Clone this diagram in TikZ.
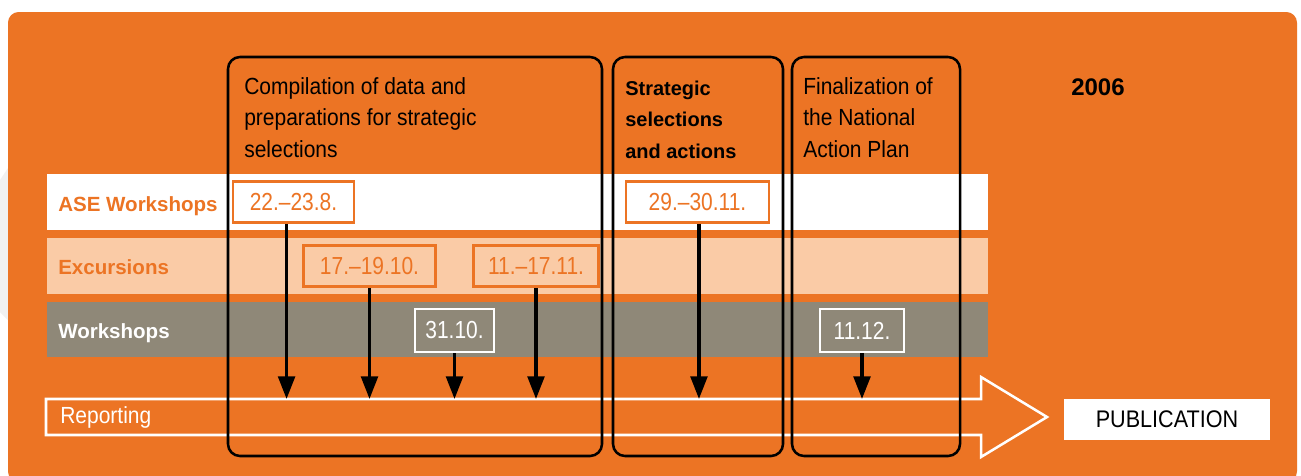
\documentclass[tikz,border=0pt]{standalone}
\usepackage{fontspec}
\setmainfont{Liberation Sans}
\newfontfamily\condf[FakeStretch=0.9]{Liberation Sans}
\newfontfamily\datef[FakeStretch=0.85]{Liberation Sans}
\usetikzlibrary{arrows.meta}
\definecolor{bgor}{HTML}{EC7424}
\definecolor{peach}{HTML}{FACBA6}
\definecolor{taupe}{HTML}{8F8878}
\definecolor{lgrey}{HTML}{F1F1F1}
\begin{document}
\begin{tikzpicture}[x=0.75pt,y=-0.75pt,
  phase/.style={draw=black, line width=1.9pt, rounded corners=9pt},
  phasetext/.style={anchor=north west, align=left, inner sep=0pt, font=\condf\fontsize{17.5}{23.6}\selectfont, text=black},
  rowlabel/.style={anchor=base west, inner sep=0pt, font=\bfseries\fontsize{15.4}{18}\selectfont},
  datebox/.style={draw=bgor, line width=1.8pt, text=bgor, inner sep=0pt, minimum height=31pt, font=\datef\fontsize{18.5}{20}\selectfont},
  wdatebox/.style={datebox, draw=white, text=white},
  flow/.style={draw=black, line width=2.6pt, -{Triangle[length=17pt,width=12.5pt]}},
  reparrow/.style={draw=white, line width=1.9pt},
]
\useasboundingbox (0,0) rectangle (1301,475);
\fill[white] (0,0) rectangle (1301,475);
\fill[lgrey] (0,180) -- (10,165) -- (10,322) -- (0,312) -- cycle;
\fill[bgor, rounded corners=8pt] (8,12) rectangle (1297,482);

% bands
\fill[white] (47,174) rectangle (988,230);
\fill[peach] (47,238) rectangle (988,294);
\fill[taupe] (47,302) rectangle (988,357);

% row labels
\node[rowlabel, text=bgor] (lase) at (58,211) {ASE Workshops};
\node[rowlabel, text=bgor] (lexc) at (58,274) {Excursions};
\node[rowlabel, text=white] (lwor) at (58,338) {Workshops};

% reporting arrow
\draw[reparrow] (46,399) -- (981,399) -- (981,377) -- (1047,417) -- (981,457) -- (981,435) -- (46,435) -- cycle;
\coordinate (reptop) at (46,399);
\node[anchor=base west, inner sep=0pt, text=white, font=\condf\fontsize{17.5}{20}\selectfont] (rep) at (60,423) {Reporting};

% publication
\node[fill=white, minimum width=154.5pt, minimum height=30.75pt, inner sep=0pt, text=black, font=\condf\fontsize{18}{20}\selectfont] (pub) at (1167,419.5) {PUBLICATION};

% year
\node[anchor=base west, inner sep=0pt, font=\bfseries\fontsize{18}{20}\selectfont] (year) at (1071,95) {2006};

% date boxes
\node[datebox, minimum width=90.75pt] (d1) at (293.5,202) {22.–23.8.};
\node[datebox, minimum width=107.25pt] (d2) at (697.5,202) {29.–30.11.};
\node[datebox, minimum width=99pt] (d3) at (369.5,266) {17.–19.10.};
\node[datebox, minimum width=93.75pt] (d4) at (536,266) {11.–17.11.};
\node[wdatebox, minimum width=59.25pt, minimum height=32pt] (d5) at (454.5,330.5) {31.10.};
\node[wdatebox, minimum width=62.6pt, minimum height=32pt] (d6) at (862,330.5) {11.12.};

% flows
\draw[flow] ([xshift=-5.2pt]d1.south) -- ([xshift=-5.2pt]d1.south |- reptop);
\draw[flow] ([xshift=1.1pt]d2.south) -- ([xshift=1.1pt]d2.south |- reptop);
\foreach \d in {d3,d4,d5,d6}
  \draw[flow] (\d.south) -- (\d.south |- reptop);

% phase boxes
\draw[phase] (228,57) rectangle (602,456);
\draw[phase] (613,57) rectangle (783,456);
\draw[phase] (792,57) rectangle (960,456);

\node[phasetext] (t1) at (244,77) {Compilation of data and\\preparations for strategic\\selections};
\node[phasetext, font=\bfseries\fontsize{15}{23.6}\selectfont] (t2) at (625,80.5) {Strategic\\selections\\and actions};
\node[phasetext] (t3) at (803,77) {Finalization of\\the National\\Action Plan};
\end{tikzpicture}
\end{document}
